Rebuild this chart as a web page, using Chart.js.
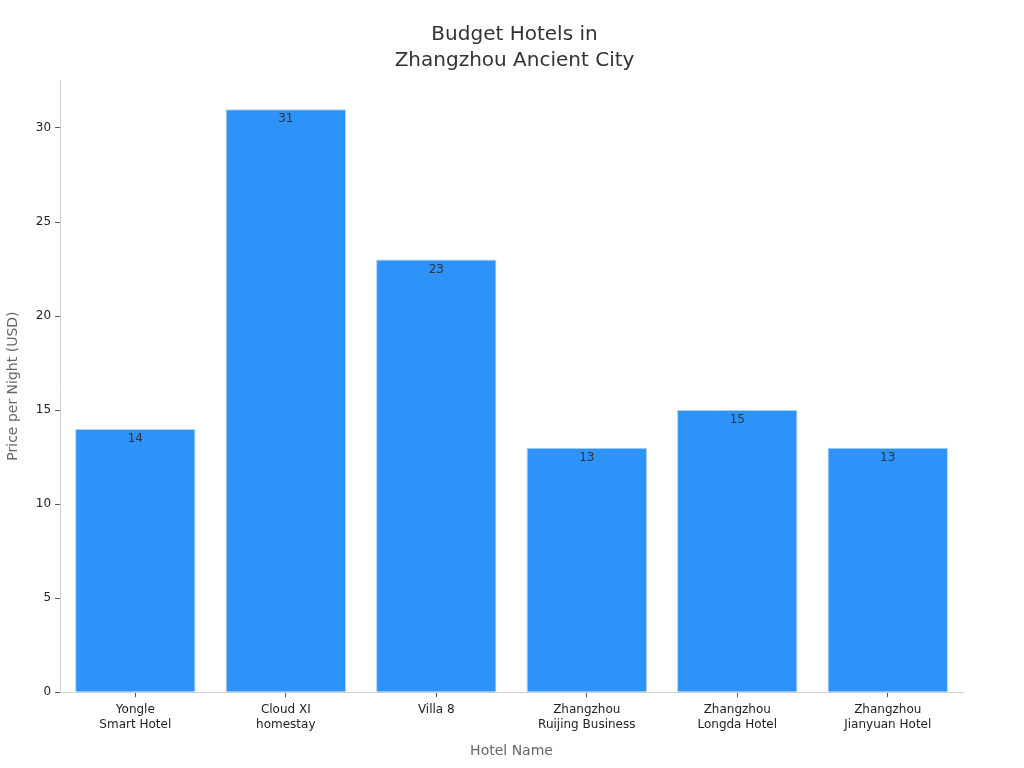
<!DOCTYPE html>
<html lang="en">
<head>
  <meta charset="UTF-8" />
  <title>Budget Hotels in Zhangzhou Ancient City</title>
  <script src="https://cdn.jsdelivr.net/npm/chart.js"></script>
  <style>
    html, body {
      margin: 0;
      padding: 0;
      background: #ffffff;
    }
    #wrap {
      width: 1024px;
      height: 768px;
    }
  </style>
</head>
<body>
  <div id="wrap">
    <canvas id="hotelChart" width="1024" height="768"></canvas>
  </div>

  <script>
    const hotels = [
      ["Yongle", "Smart Hotel"],
      ["Cloud XI", "homestay"],
      "Villa 8",
      ["Zhangzhou", "Ruijing Business"],
      ["Zhangzhou", "Longda Hotel"],
      ["Zhangzhou", "Jianyuan Hotel"]
    ];
    const prices = [14, 31, 23, 13, 15, 13];

    // value labels just inside the top of each bar
    const barLabels = {
      id: "barLabels",
      afterDatasetsDraw(chart) {
        const { ctx } = chart;
        const meta = chart.getDatasetMeta(0);
        ctx.save();
        ctx.font = "12px 'DejaVu Sans', sans-serif";
        ctx.fillStyle = "#333333";
        ctx.textAlign = "center";
        ctx.textBaseline = "top";
        meta.data.forEach((bar, i) => {
          ctx.fillText(String(prices[i]), bar.x, bar.y + 4);
        });
        ctx.restore();
      }
    };

    new Chart(document.getElementById("hotelChart"), {
      type: "bar",
      data: {
        labels: hotels,
        datasets: [{
          data: prices,
          backgroundColor: "#2e93f9",
          borderColor: "#a8d2fb",
          borderWidth: 1,
          barPercentage: 0.8,
          categoryPercentage: 1.0
        }]
      },
      options: {
        responsive: false,
        animation: false,
        layout: {
          padding: { top: 4, right: 0, bottom: 0, left: 5 }
        },
        plugins: {
          legend: { display: false },
          tooltip: { enabled: false },
          title: {
            display: true,
            text: ["Budget Hotels in", "Zhangzhou Ancient City"],
            color: "#333333",
            font: { family: "'DejaVu Sans', sans-serif", size: 20, weight: "normal", lineHeight: 1.3 },
            padding: { top: 18, bottom: 6 }
          }
        },
        scales: {
          x: {
            grid: {
              display: true,
              drawOnChartArea: false,
              offset: false,
              tickLength: 5,
              color: "#555555"
            },
            border: { color: "#d0d0d0" },
            ticks: {
              color: "#222222",
              font: { family: "'DejaVu Sans', sans-serif", size: 12, lineHeight: 1.25 },
              padding: 5
            },
            title: {
              display: true,
              text: "Hotel Name",
              color: "#666666",
              font: { family: "'DejaVu Sans', sans-serif", size: 14 },
              padding: { top: 6, bottom: 8 }
            }
          },
          y: {
            min: 0,
            max: 32.55,
            grid: {
              display: true,
              drawOnChartArea: false,
              tickLength: 5,
              color: "#555555"
            },
            border: { color: "#d0d0d0" },
            ticks: {
              stepSize: 5,
              includeBounds: false,
              color: "#222222",
              font: { family: "'DejaVu Sans', sans-serif", size: 12 },
              padding: 4
            },
            title: {
              display: true,
              text: "Price per Night (USD)",
              color: "#666666",
              font: { family: "'DejaVu Sans', sans-serif", size: 14 },
              padding: { top: 0, bottom: 10 }
            }
          },
          // empty right-hand spacer so the title stays centred on the page
          spacer: {
            type: "linear",
            position: "right",
            display: true,
            grid: { display: false },
            border: { display: false },
            ticks: { display: false },
            afterFit(scale) {
              scale.width = 61;
            }
          }
        }
      },
      plugins: [barLabels]
    });
  </script>
</body>
</html>
